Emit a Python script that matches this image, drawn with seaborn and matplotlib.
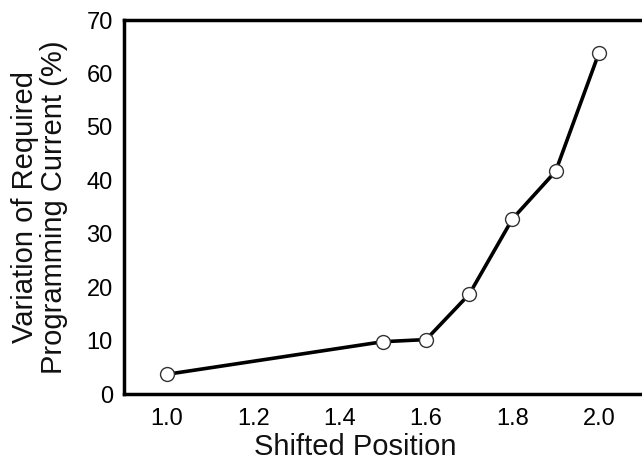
import matplotlib
matplotlib.use("Agg")
import matplotlib.pyplot as plt
import seaborn as sns
import pandas as pd

shifted_position = [1.0, 1.5, 1.6, 1.7, 1.8, 1.9, 2.0]
variation = [3.7, 9.8, 10.2, 18.7, 32.8, 41.7, 63.8]
x_ticks = [1.0, 1.2, 1.4, 1.6, 1.8, 2.0]
y_ticks = [0, 10, 20, 30, 40, 50, 60, 70]

sns.set_style("white")
plt.rcParams['font.family'] = ['Liberation Sans', 'DejaVu Sans']

df = pd.DataFrame({"x": shifted_position, "y": variation})

fig = plt.figure(figsize=(6.42, 4.68), dpi=100)
ax = fig.add_axes([0.193, 0.158, 0.807, 0.799])
sns.lineplot(data=df, x="x", y="y", ax=ax, color="black", linewidth=2.6,
             marker="o", markersize=10, markerfacecolor="white",
             markeredgecolor="#333333", markeredgewidth=1.0)

ax.set_xlim(0.9, 2.1)
ax.set_ylim(0, 70)
ax.set_xticks(x_ticks)
ax.set_xticklabels([f"{v:.1f}" for v in x_ticks])
ax.set_yticks(y_ticks)
ax.tick_params(direction="in", length=7, width=2, labelsize=17, colors="black", pad=8)
ax.tick_params(axis="x", pad=10)
for s in ["left", "bottom", "top"]:
    ax.spines[s].set_linewidth(2.5)
    ax.spines[s].set_color("black")
ax.spines["right"].set_visible(False)

ax.set_xlabel("Shifted Position", fontsize=21, color="#111111")
ax.xaxis.set_label_coords(0.447, -0.105)
ax.set_ylabel("Variation of Required\nProgramming Current (%)", fontsize=21,
              linespacing=1.05, color="#111111")
ax.yaxis.set_label_coords(-0.108, 0.5)

fig.savefig("out.png", dpi=100)
